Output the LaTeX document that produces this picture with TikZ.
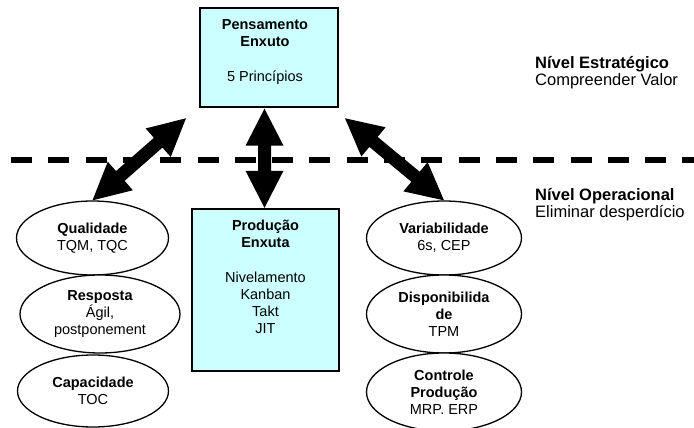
\documentclass[tikz,border=0pt]{standalone}
\usepackage{fontspec}
\setmainfont{Liberation Sans}
\usetikzlibrary{calc,shapes.geometric}

\definecolor{panelcyan}{HTML}{CCFFFF}

% arrow geometry: head length, head half-width, shaft half-width
\newcommand\ahlen{37pt}
\newcommand\ahwid{19pt}
\newcommand\shwid{6.5pt}

% filled double-headed block arrow between two points
\newcommand\fatarrow[2]{%
  \fill[black] (#1)
    -- ($(#1)!\ahlen!(#2)!\ahwid!90:(#2)$)
    -- ($(#1)!\ahlen!(#2)!\shwid!90:(#2)$)
    -- ($(#2)!\ahlen!(#1)!\shwid!-90:(#1)$)
    -- ($(#2)!\ahlen!(#1)!\ahwid!-90:(#1)$)
    -- (#2)
    -- ($(#2)!\ahlen!(#1)!\ahwid!90:(#1)$)
    -- ($(#2)!\ahlen!(#1)!\shwid!90:(#1)$)
    -- ($(#1)!\ahlen!(#2)!\shwid!-90:(#2)$)
    -- ($(#1)!\ahlen!(#2)!\ahwid!-90:(#2)$)
    -- cycle;}

\tikzset{
  panel/.style={draw=black, line width=1.4pt, fill=panelcyan, rectangle, inner sep=0pt},
  paneltext/.style={align=center, inner sep=0pt, font=\fontsize{14.5}{17}\selectfont},
  bubble/.style={draw=black, line width=1.3pt, fill=white, ellipse, inner sep=0pt,
                 align=center, font=\fontsize{14.5}{17}\selectfont},
  levellabel/.style={align=left, inner sep=0pt, anchor=north west,
                     font=\fontsize{16.5}{16.5}\selectfont},
  divider/.style={line width=6pt, dash pattern=on 21pt off 16.3pt}
}

\begin{document}
\begin{tikzpicture}[x=1pt, y=-1pt]
  \useasboundingbox (0,0) rectangle (694,428);

  % strategic / operational divider
  \draw[divider] (11,160) -- (694,160);

  % central boxes
  \node[panel, minimum width=138pt, minimum height=99pt] (pens) at (269,57.5) {};
  \node[paneltext, anchor=north] (penstext) at (265,19.5)
    {\textbf{Pensamento}\\\textbf{Enxuto}\\[18pt]5 Princípios};

  \node[panel, minimum width=147pt, minimum height=162pt] (prod) at (265.5,290) {};
  \node[paneltext, anchor=north] (prodtext) at (265.5,219.5)
    {\textbf{Produção}\\\textbf{Enxuta}\\[18pt]Nivelamento\\Kanban\\Takt\\JIT};

  % left column
  \node[bubble, minimum width=152pt, minimum height=74pt] (qual) at (92.5,238)
    {\textbf{Qualidade}\\TQM, TQC};
  \node[bubble, minimum width=160pt, minimum height=78pt] (resp) at (100,314)
    {\textbf{Resposta}\\Ágil,\\postponement};
  \node[bubble, minimum width=151pt, minimum height=72pt] (capa) at (93,391)
    {\textbf{Capacidade}\\TOC};

  % right column
  \node[bubble, minimum width=155pt, minimum height=74pt] (vari) at (444,238)
    {\textbf{Variabilidade}\\6s, CEP};
  \node[bubble, minimum width=155pt, minimum height=78pt] (disp) at (444,314)
    {\textbf{Disponibilida}\\\textbf{de}\\TPM};
  \node[bubble, minimum width=155pt, minimum height=78pt] (ctrl) at (444,392)
    {\textbf{Controle}\\\textbf{Produção}\\MRP. ERP};

  % level labels
  \node[levellabel] (estr) at (535,56.5) {\textbf{Nível Estratégico}\\Compreender Valor};
  \node[levellabel] (oper) at (535,188.5) {\textbf{Nível Operacional}\\Eliminar desperdício};

  % arrow end points
  \coordinate (lefttop) at (186,118.3);
  \coordinate (righttop) at (345,118.3);
  \coordinate (midtop) at ($(prod.north |- pens.south)+(-1,1)$);
  \coordinate (midbot) at ($(prod.north)+(-1,-0.5)$);

  \fatarrow{qual.north}{lefttop}
  \fatarrow{midtop}{midbot}
  \fatarrow{righttop}{vari.north}
\end{tikzpicture}
\end{document}
